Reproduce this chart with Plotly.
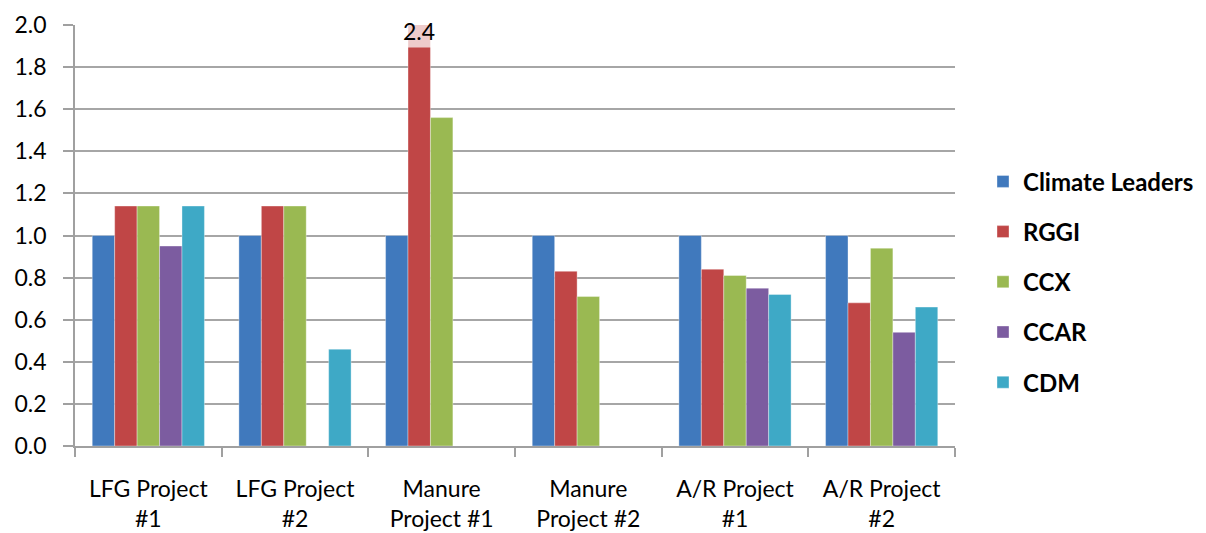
import plotly.graph_objects as go

categories = ["LFG Project<br>#1", "LFG Project<br>#2", "Manure<br>Project #1",
              "Manure<br>Project #2", "A/R Project<br>#1", "A/R Project<br>#2"]
climate_leaders = [1.0, 1.0, 1.0, 1.0, 1.0, 1.0]
rggi = [1.14, 1.14, 2.4, 0.83, 0.84, 0.68]
ccx = [1.14, 1.14, 1.56, 0.71, 0.81, 0.94]
ccar = [0.95, None, None, None, 0.75, 0.54]
cdm = [1.14, 0.46, None, None, 0.72, 0.66]

series = [
    ("Climate Leaders", climate_leaders, "#4079BD"),
    ("RGGI", rggi, "#C04646"),
    ("CCX", ccx, "#9AB952"),
    ("CCAR", ccar, "#7C5CA0"),
    ("CDM", cdm, "#3EA9C6"),
]

FONT = "Lato, Open Sans, sans-serif"
bargap = 0.235
fig = go.Figure()
for i, (name, vals, color) in enumerate(series):
    fig.add_trace(go.Bar(
        x=categories, y=vals, name=name, legendgroup=name,
        marker=dict(color=color, line=dict(color="rgba(255,255,255,0.6)", width=0.6)),
    ))

# data label for the clipped RGGI bar
L, R, T, B = 75, 251, 25, 87
plot_w = 1206 - L - R
cat_w = plot_w / len(categories)
bar_w = (1 - bargap) * cat_w / len(series)
fig.add_annotation(
    x=categories[2], y=2.0, xref="x", yref="y",
    text=f"{rggi[2]}", showarrow=False,
    xshift=-bar_w, yshift=-6, yanchor="middle",
    bgcolor="rgba(255,255,255,0.72)", borderpad=2,
    font=dict(family=FONT, size=23, color="#000"),
)

fig.update_layout(
    width=1206, height=533,
    margin=dict(l=L, r=R, t=T, b=B, autoexpand=False),
    paper_bgcolor="white", plot_bgcolor="white",
    barmode="group", bargap=bargap, bargroupgap=0,
    font=dict(family=FONT, size=20, color="#000"),
    legend=dict(
        x=(983 - L) / plot_w, y=0.39, xanchor="left", yanchor="middle",
        font=dict(family=FONT, size=24, color="#000", weight="bold"),
        tracegroupgap=16, traceorder="grouped",
        itemwidth=30,
    ),
    showlegend=True,
)
fig.update_xaxes(
    showline=True, linecolor="#A0A0A0", linewidth=1.5,
    ticks="outside", tickson="boundaries", ticklen=9, tickcolor="#A0A0A0", tickwidth=1.5,
    tickfont=dict(family=FONT, size=23, color="#000"),
    ticklabelstandoff=22, automargin=False,
    showgrid=False,
)
fig.update_yaxes(
    range=[0, 2.0], dtick=0.2, tickformat=".1f",
    showline=True, linecolor="#A0A0A0", linewidth=1.5,
    ticks="outside", ticklen=10, tickcolor="#A0A0A0", tickwidth=1.5,
    ticklabelstandoff=12, automargin=False,
    showgrid=True, gridcolor="#A6A6A6", gridwidth=1.5,
    tickfont=dict(family=FONT, size=23, color="#000"),
    zeroline=False,
)

fig.write_html("out.html")
